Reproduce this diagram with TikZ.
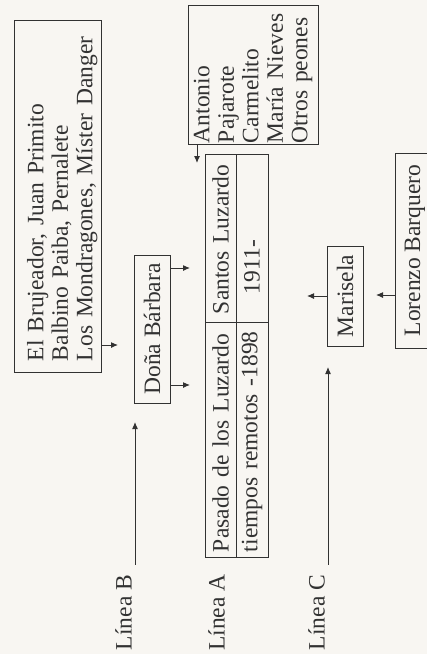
\documentclass[tikz,border=0pt]{standalone}
\usepackage{fontspec}
\setmainfont{Liberation Serif}
\usetikzlibrary{arrows.meta}
\definecolor{ink}{RGB}{50,50,50}
\definecolor{paper}{RGB}{248,246,242}
\newcommand\myfs{\fontsize{23.5}{24.5}\selectfont}
\begin{document}
\begin{tikzpicture}[x=1pt,y=-1pt,
  box/.style={draw=ink, line width=1pt, rotate=90, inner ysep=0pt, font=\myfs, text=ink},
  cell/.style={box, align=left, minimum height=31pt},
  lbl/.style={rotate=90, inner sep=0pt, inner xsep=10pt, font=\myfs, text=ink},
  arr/.style={draw=ink, line width=1pt, -{Latex[length=7pt,width=6pt]}}]
\useasboundingbox (0,0) rectangle (427,654);
\clip (0,0) rectangle (427,654);
\fill[paper] (0,0) rectangle (427,654);

% boxes
\node[box, align=left, minimum width=352pt, minimum height=87pt, text width=330pt, inner xsep=11pt] (eb) at (57.5,196)
  {\rule{0pt}{26pt}El Brujeador, Juan Primito\\Balbino Paiba, Pernalete\\Los Mondragones, Míster Danger};
\node[box, minimum width=148pt, minimum height=36pt] (db) at (152,329) {Doña Bárbara};
\node[box, align=left, minimum width=139pt, minimum height=130pt, text width=137pt, inner xsep=1pt] (ant) at (253,74.5)
  {Antonio\\Pajarote\\Carmelito\\María Nieves\\Otros peones};

% table
\node[cell, minimum width=168pt, text width=152pt, inner xsep=8pt] (sl) at (220.5,238) {Santos Luzardo};
\node[cell, minimum width=168pt, minimum height=32pt, text width=152pt, inner xsep=8pt] (yr) at (252,238) {\hspace*{20pt}1911-};
\node[cell, minimum width=235pt, text width=225pt, inner xsep=5pt] (pl) at (220.5,439.5) {Pasado de los Luzardo};
\node[cell, minimum width=235pt, minimum height=32pt, text width=225pt, inner xsep=5pt] (tr) at (252,439.5) {tiempos remotos -1898};

\node[box, minimum width=100pt, minimum height=36pt] (mar) at (345,296) {Marisela};
\node[box, minimum width=195pt, minimum height=40pt] (lor) at (415,250.5) {Lorenzo Barquero};

% labels
\node[lbl] (lbB) at (123.5,612.5) {Línea B};
\node[lbl] (lbA) at (216.5,612.5) {Línea A};
\node[lbl] (lbC) at (316.5,612.5) {Línea C};

% arrow tips
\coordinate (tipE) at (118,345);
\coordinate (tipD1) at (190,268);
\coordinate (tipD2) at (190,385);
\coordinate (tipAnt) at (197,163);
\coordinate (tipM) at (307,296);
\coordinate (tipL) at (376,295);
\coordinate (tipB) at (135,422);
\coordinate (tipC) at (328,367);

\draw[arr] (eb.south |- tipE) -- (tipE);
\draw[arr] (db.south |- tipD1) -- (tipD1);
\draw[arr] (db.south |- tipD2) -- (tipD2);
\draw[arr] (ant.west -| tipAnt) -- (tipAnt);
\draw[arr] (mar.north |- tipM) -- (tipM);
\draw[arr] (lor.north |- tipL) -- (tipL);
\draw[arr] (lbB.east -| tipB) -- (tipB);
\draw[arr] (lbC.east -| tipC) -- (tipC);
\end{tikzpicture}
\end{document}
